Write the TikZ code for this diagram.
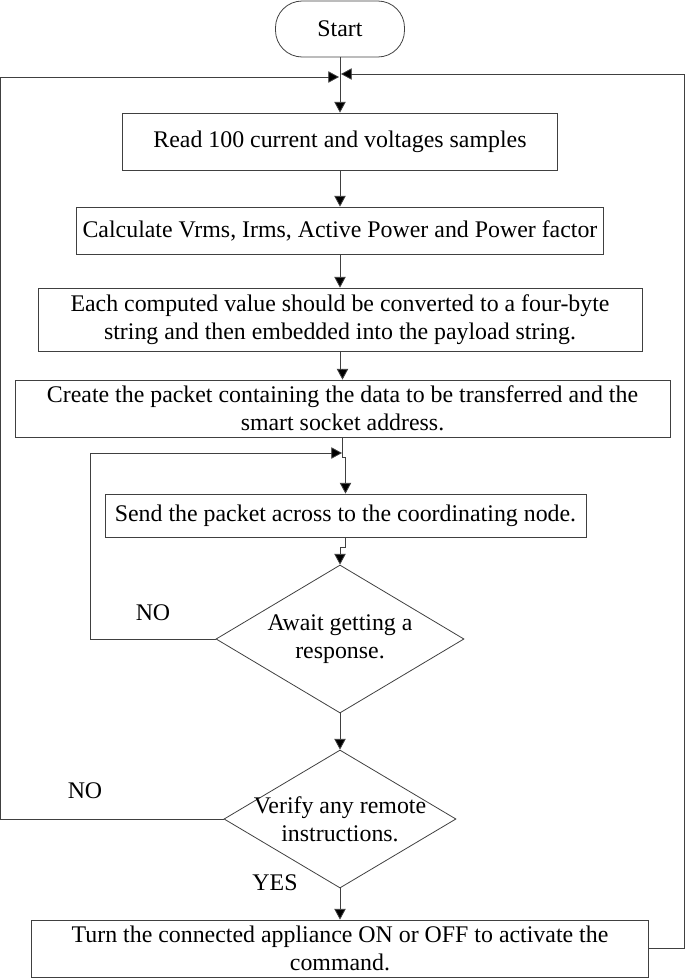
\documentclass[tikz,border=0pt]{standalone}
\usepackage{fontspec}
\setmainfont{Liberation Serif}
\usepackage{tikz}
\usetikzlibrary{shapes.geometric, arrows.meta}

\begin{document}
\begin{tikzpicture}[x=0.75pt,y=0.75pt,yscale=-1,xscale=1,
  every node/.style={font=\fontsize{17.9}{21}\selectfont},
  box/.style={draw=black!75, line width=0.6pt, inner sep=0pt, align=center},
  decision/.style={draw=black!75, line width=0.6pt, shape=diamond, inner ysep=0pt, inner xsep=-30pt, shape aspect=1.7, align=center},
  arr/.style={draw=black!75, line width=0.6pt, -{Triangle[length=8pt,width=8.5pt,fill=black]}},
  link/.style={draw=black!75, line width=0.6pt}]
\useasboundingbox (0,0) rectangle (685,978);

%Shape: Terminator [id:start]
\node [box, rounded corners=20pt, minimum width=96.75pt, minimum height=42pt] (start) at (340,29) {Start};
%Shape: Process boxes
\node [box, minimum width=326.25pt, minimum height=42.75pt] (read) at (340,141.5) {Read 100 current and voltages samples};
\node [box, minimum width=395.25pt, minimum height=35.25pt] (calc) at (340,230.5) {Calculate Vrms, Irms, Active Power and Power factor};
\node [box, minimum width=453pt, minimum height=47.25pt] (each) at (340,319.5) {Each computed value should be converted to a four-byte\\string and then embedded into the payload string.};
\node [box, minimum width=491.25pt, minimum height=42.75pt] (create) at (342.5,408.5) {Create the packet containing the data to be transferred and the\\smart socket address.};
\node [box, minimum width=360.75pt, minimum height=32.25pt] (send) at (345.5,515.5) {Send the packet across to the coordinating node.};
%Shape: Decisions
\node [decision, minimum width=186pt, minimum height=111pt] (await) at (340,639) {Await getting a\\response.};
\node [decision, minimum width=174pt, minimum height=103.5pt] (verify) at (340,819) {Verify any remote\\instructions.};
\node [box, minimum width=462.75pt, minimum height=42.75pt] (turn) at (340,948.5) {Turn the connected appliance ON or OFF to activate the\\command.};

%Loop end points
\coordinate (joinL) at (339,77);
\coordinate (joinR) at (341,74);
\coordinate (joinS) at (342,453);

%Straight Lines
\draw [arr] (start) -- (read);
\draw [arr] (read) -- (calc);
\draw [arr] (calc) -- (each);
\draw [arr] (each.south) -- ++(0,22) -| (create.north);
\draw [arr] (create.south) -- ++(0,20) -| (send.north);
\draw [arr] (send.south) -- ++(0,10) -| (await.north);
\draw [arr] (await) -- (verify);
\draw [arr] (verify) -- (turn);
%Loop Lines
\draw [arr] (await.west) -- ++(-125,0) |- (joinS);
\draw [arr] (verify.west) -- ++(-223,0) |- (joinL);
\draw [arr] (turn.east) -- ++(35,0) |- (joinR);

% Text Node
\node (no1) at (153,613) {NO};
% Text Node
\node (no2) at (85,791) {NO};
% Text Node
\node (yes) at (275,883) {YES};

\end{tikzpicture}
\end{document}
